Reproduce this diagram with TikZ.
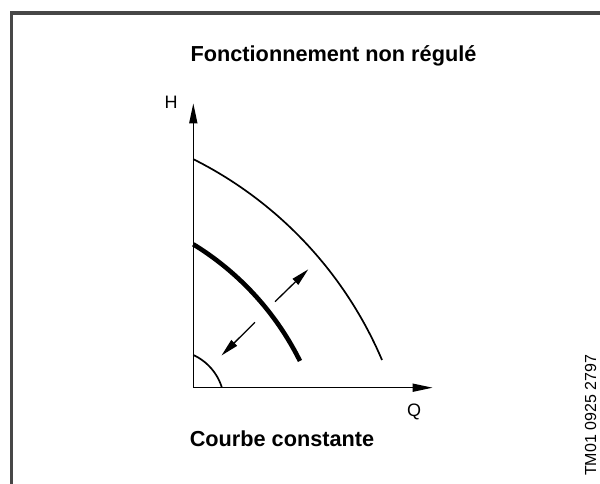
\documentclass[tikz,border=0pt]{standalone}
\usepackage{fontspec}
\setmainfont{Liberation Sans}
\usetikzlibrary{arrows.meta}
\tikzset{
  frame/.style={draw=black!72, line width=3.5pt, line join=miter},
  axis/.style={draw=black, line width=1.5pt, -{Triangle[length=20pt,width=8pt]}},
  curvethin/.style={draw=black, line width=1.7pt},
  curvethick/.style={draw=black, line width=4.6pt},
  shiftarrow/.style={draw=black, line width=1.3pt, -{Triangle[length=18pt,width=8pt]}},
  boldlabel/.style={inner sep=0pt, anchor=base, font=\fontsize{21.7pt}{26pt}\selectfont\bfseries},
  axlabel/.style={inner sep=0pt, anchor=base, font=\fontsize{18pt}{21pt}\selectfont},
  codelabel/.style={inner sep=0pt, rotate=90, font=\fontsize{16pt}{19pt}\selectfont}
}
\begin{document}
\begin{tikzpicture}[x=1pt, y=-1pt]
\useasboundingbox (0,0) rectangle (600,484);
% frame
\draw[frame] (11.5,486) -- (11.5,13) -- (602,13);
% titles
\node[boldlabel] (title) at (333.5,61.7) {Fonctionnement non régulé};
\node[boldlabel] (subtitle) at (282,446.7) {Courbe constante};
\node[codelabel] (code) at (590.5,415.5) {TM01 0925 2797};
% axes
\coordinate (O) at (193.3,387.7);
\coordinate (ytip) at (193.3,103.3);
\coordinate (xtip) at (432.7,387.7);
\draw[axis] (O) -- (ytip);
\draw[axis] (O) -- (xtip);
\node[axlabel] (H) at (171,108.3) {H};
\node[axlabel] (Q) at (414,416.5) {Q};
% curves
\draw[curvethin] plot[domain=-63.4:-23.04, samples=60, variable=\t] ({14.3+399.6*cos(\t)}, {516.4+399.6*sin(\t)});
\draw[curvethick] plot[domain=-58.5:-26.37, samples=60, variable=\t] ({44.0+285.7*cos(\t)}, {487.9+285.7*sin(\t)});
\draw[curvethin] plot[domain=-65.4:-17, samples=40, variable=\t] ({171.3+52.9*cos(\t)}, {403.1+52.9*sin(\t)});
% shift arrows
\coordinate (up0) at (275,301.7);
\coordinate (up1) at (308.3,269.3);
\coordinate (dn0) at (255,322.3);
\coordinate (dn1) at (221.5,355.5);
\draw[shiftarrow] (up0) -- (up1);
\draw[shiftarrow] (dn0) -- (dn1);
\end{tikzpicture}
\end{document}
